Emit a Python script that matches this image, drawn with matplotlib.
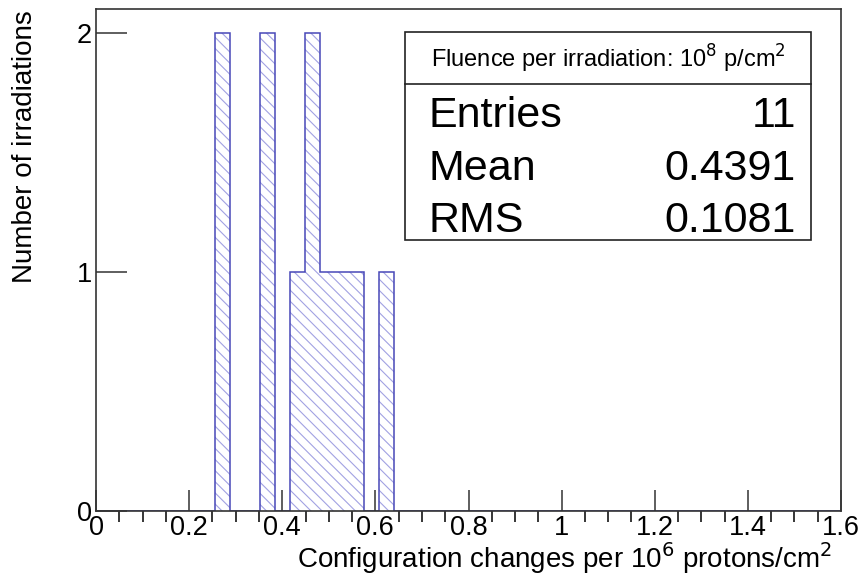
import numpy as np
import matplotlib
matplotlib.use('Agg')
import matplotlib.pyplot as plt
from matplotlib.patches import Rectangle
from matplotlib.lines import Line2D

plt.rcParams['font.family'] = ['Liberation Sans', 'DejaVu Sans']
plt.rcParams['hatch.linewidth'] = 0.8

# histogram: 50 bins from 0 to 1.6, only the filled ones listed
n_bins = 50
x_lo = 0.0
x_hi = 1.6
filled_bins = [8, 11, 13, 14, 15, 16, 17, 19]
filled_counts = [2, 2, 1, 2, 1, 1, 1, 1]

stat_names = ['Entries', 'Mean', 'RMS']
stat_values = ['11', '0.4391', '0.1081']

x_ticks = [0, 0.2, 0.4, 0.6, 0.8, 1.0, 1.2, 1.4, 1.6]
x_ticklabels = ['0', '0.2', '0.4', '0.6', '0.8', '1', '1.2', '1.4', '1.6']
y_ticks = [0, 1, 2]

edges = np.linspace(x_lo, x_hi, n_bins + 1)
counts = np.zeros(n_bins)
counts[filled_bins] = filled_counts

fig = plt.figure(figsize=(8.64, 5.77), dpi=100)
ax = fig.add_axes([96/864, 1-511/577, (841-96)/864, (511-9)/577])

# hatched fill, then outline
ax.stairs(counts, edges, fill=True, facecolor='none', edgecolor='#a2a2e2',
          hatch='\\\\\\', linewidth=0)
ax.stairs(counts, edges, color='#4848b8', linewidth=1.1)

ax.set_xlim(x_lo, x_hi)
ax.set_ylim(0, 2.1)
ax.set_xticks(x_ticks)
ax.set_xticklabels(x_ticklabels)
ax.set_xticks(np.arange(0, 1.6001, 0.05), minor=True)
ax.set_yticks(y_ticks)
ax.tick_params(axis='both', direction='in', labelsize=19.5, color='#333333')
ax.tick_params(axis='x', which='major', length=15, width=1.1, pad=3)
ax.tick_params(axis='x', which='minor', length=8, width=1.1)
ax.tick_params(axis='y', which='major', length=22, width=1.1, pad=3)
for s in ax.spines.values():
    s.set_linewidth(1.2)
    s.set_color('#333333')

fig.text(25/864, 1-10/577, 'Number of irradiations', rotation=90,
         ha='center', va='top', fontsize=20)
fig.text(832/864, 1-568/577, r'Configuration changes per 10$^{6}$ protons/cm$^{2}$',
         ha='right', va='baseline', fontsize=20)

# stats box
bx0, bx1 = 405/864, 811/864
by0, by1 = 1-240/577, 1-32/577
ydiv = 1-84/577
fig.add_artist(Rectangle((bx0, by0), bx1-bx0, by1-by0, transform=fig.transFigure,
                         facecolor='white', edgecolor='#222222', linewidth=1.2))
fig.add_artist(Line2D([bx0, bx1], [ydiv, ydiv], transform=fig.transFigure,
                      color='#222222', linewidth=1.2))
fig.text((bx0+bx1)/2, 1-68/577, r'Fluence per irradiation: 10$^{8}$ p/cm$^{2}$',
         ha='center', va='baseline', fontsize=17)
row_base = [127, 180, 232]
for name, val, ry in zip(stat_names, stat_values, row_base):
    fig.text(428/864, 1-ry/577, name, ha='left', va='baseline', fontsize=31)
    fig.text(796/864, 1-ry/577, val, ha='right', va='baseline', fontsize=31)

fig.savefig('out.png', dpi=100)
